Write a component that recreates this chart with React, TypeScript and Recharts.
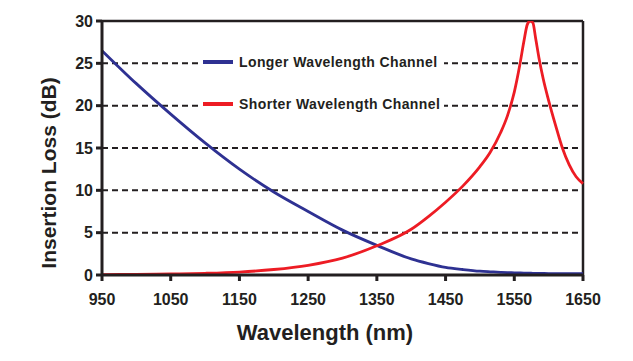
import React from "react";
import {
  LineChart,
  Line,
  XAxis,
  YAxis,
  CartesianGrid,
  ReferenceLine,
  Legend,
  Label,
} from "recharts";

const wavelengths = [
  950, 1000, 1050, 1100, 1150, 1200, 1250, 1300, 1350, 1400, 1425, 1450, 1475,
  1500, 1515, 1530, 1540, 1550, 1558, 1564, 1569, 1573, 1577, 1581, 1586, 1592,
  1600, 1610, 1620, 1630, 1640, 1650,
];
const longerLoss = [
  26.5, 22.6, 19.0, 15.6, 12.5, 9.8, 7.5, 5.3, 3.5, 1.9, 1.35, 0.9, 0.65, 0.45,
  0.38, 0.32, 0.29, 0.26, 0.24, 0.23, 0.22, 0.21, 0.2, 0.2, 0.19, 0.18, 0.17,
  0.16, 0.16, 0.15, 0.15, 0.15,
];
const shorterLoss = [
  0.05, 0.08, 0.12, 0.2, 0.35, 0.65, 1.15, 2.0, 3.45, 5.4, 6.9, 8.6, 10.5, 12.8,
  14.5, 16.8, 18.8, 21.6, 24.8, 27.6, 29.6, 30.0, 29.8, 28.0, 25.6, 23.2, 20.6,
  17.7, 15.0, 13.0, 11.6, 10.8,
];
const xTicks = [950, 1050, 1150, 1250, 1350, 1450, 1550, 1650];
const yTicks = [0, 5, 10, 15, 20, 25, 30];
const seriesNames = ["Longer Wavelength Channel", "Shorter Wavelength Channel"];

const data = wavelengths.map((w, i) => ({
  w,
  longer: longerLoss[i],
  shorter: shorterLoss[i],
}));

const ink = "#231f20";
const blue = "#2e3192";
const red = "#ed1c24";
const font = "'Liberation Sans', Arial, sans-serif";
const tickStyle = { fill: ink, fontSize: 16, fontWeight: 700, fontFamily: font };

function LegendBox() {
  const items = [
    { name: seriesNames[0], color: blue },
    { name: seriesNames[1], color: red },
  ];
  return (
    <div style={{ background: "#fff", padding: "0 4px", fontFamily: font }}>
      {items.map((it) => (
        <div
          key={it.name}
          style={{ display: "flex", alignItems: "center", height: 42.5 }}
        >
          <div style={{ width: 30, height: 4, background: it.color }} />
          <span
            style={{
              marginLeft: 6,
              fontSize: 14,
              fontWeight: 700,
              letterSpacing: 0.4,
              color: ink,
              whiteSpace: "nowrap",
            }}
          >
            {it.name}
          </span>
        </div>
      ))}
    </div>
  );
}

export default function App() {
  return (
    <div style={{ position: "absolute", left: 0, top: 0 }}>
      <LineChart
        width={633}
        height={361}
        data={data}
        margin={{ top: 21, right: 50, left: 0, bottom: 0 }}
      >
        <CartesianGrid
          vertical={false}
          stroke={ink}
          strokeWidth={2}
          strokeDasharray="6 4"
        />
        <XAxis
          dataKey="w"
          type="number"
          domain={[950, 1650]}
          ticks={xTicks}
          height={86}
          stroke={ink}
          strokeWidth={3}
          tickSize={6}
          tickMargin={13}
          tick={tickStyle}
        >
          <Label
            content={() => (
              <text
                x={325}
                y={340}
                textAnchor="middle"
                fill={ink}
                fontSize={22}
                fontWeight={700}
                fontFamily={font}
              >
                Wavelength (nm)
              </text>
            )}
          />
        </XAxis>
        <YAxis
          type="number"
          domain={[0, 30]}
          ticks={yTicks}
          allowDataOverflow
          width={102}
          stroke={ink}
          strokeWidth={3}
          tickSize={6}
          tickMargin={3}
          tick={tickStyle}
        >
          <Label
            content={() => (
              <text
                x={56}
                y={173}
                transform="rotate(-90 56 173)"
                textAnchor="middle"
                fill={ink}
                fontSize={21}
                fontWeight={700}
                fontFamily={font}
              >
                Insertion Loss (dB)
              </text>
            )}
          />
        </YAxis>
        <ReferenceLine y={30} stroke={ink} strokeWidth={2.5} />
        <ReferenceLine x={1650} stroke={ink} strokeWidth={2.5} />
        <Legend
          layout="horizontal"
          verticalAlign="middle"
          align="center"
          content={() => <LegendBox />}
          wrapperStyle={{ left: 199, top: 40.5, width: "auto", height: "auto" }}
        />
        <Line
          type="monotone"
          dataKey="longer"
          name={seriesNames[0]}
          stroke={blue}
          strokeWidth={2.8}
          dot={false}
          isAnimationActive={false}
        />
        <Line
          type="monotone"
          dataKey="shorter"
          name={seriesNames[1]}
          stroke={red}
          strokeWidth={2.8}
          dot={false}
          isAnimationActive={false}
        />
      </LineChart>
    </div>
  );
}
